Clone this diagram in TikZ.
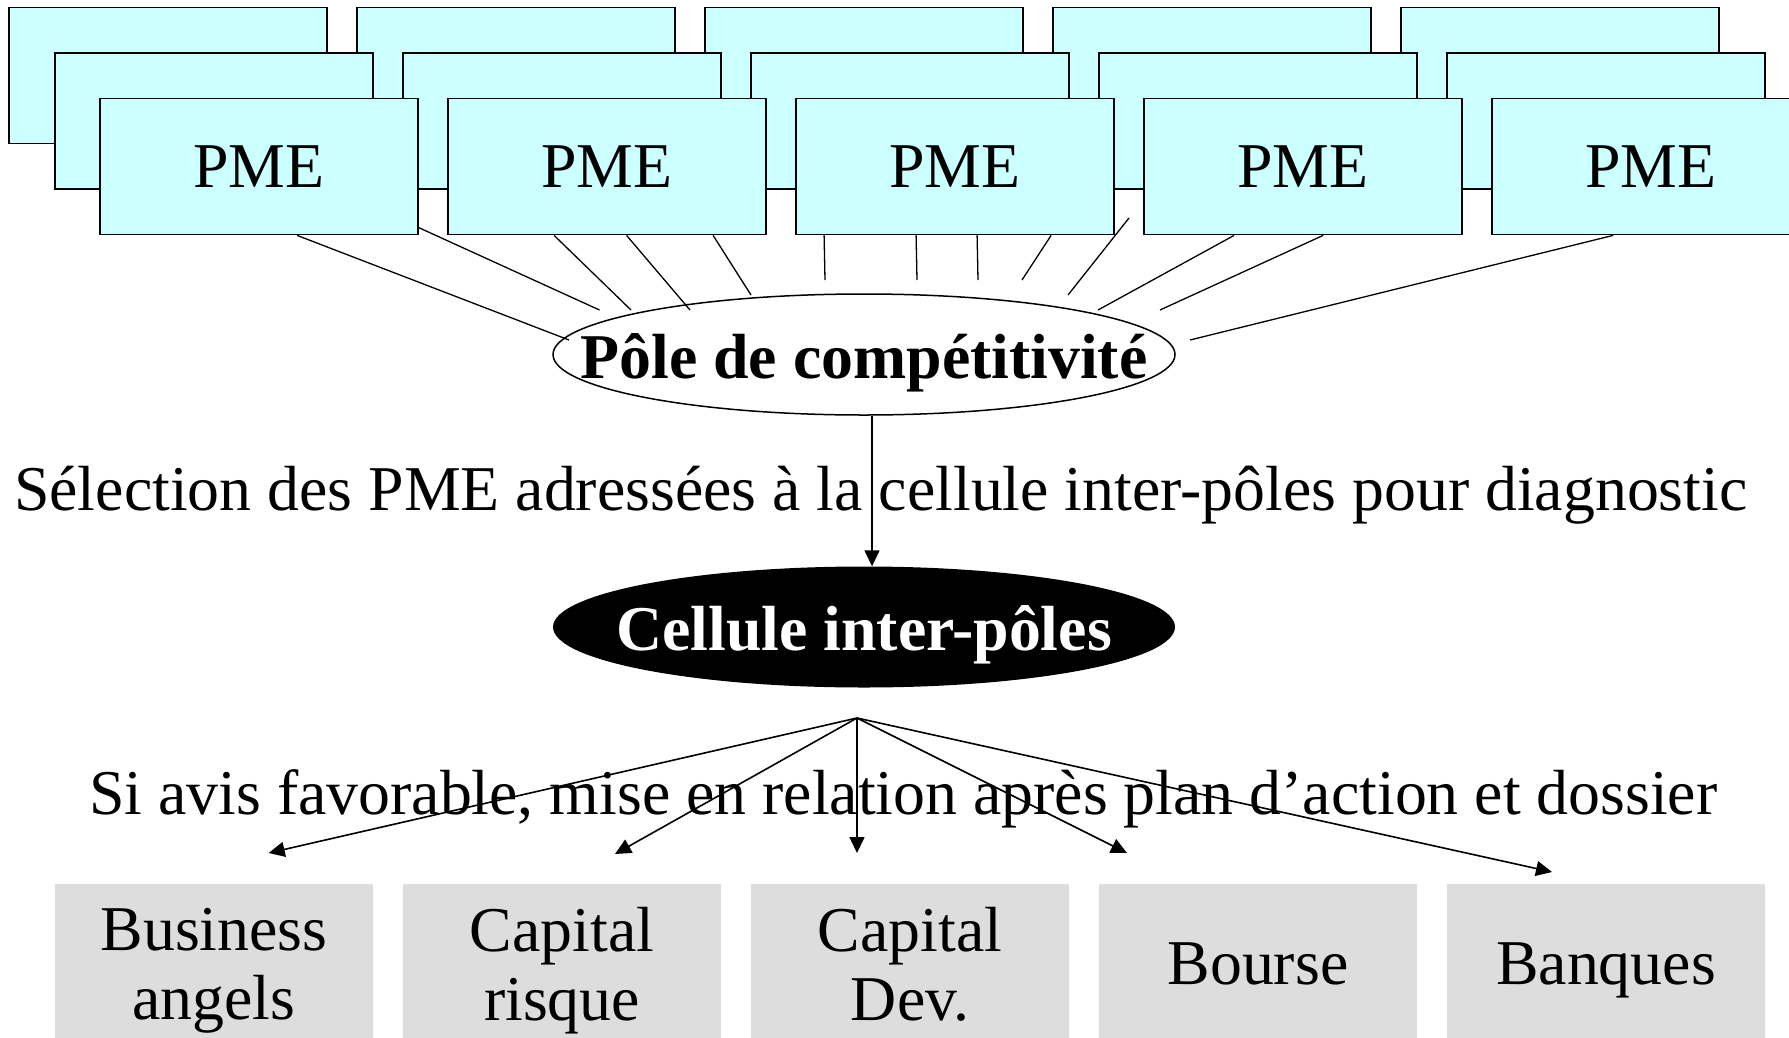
\documentclass[tikz,border=0pt]{standalone}
\usepackage{fontspec}
\setmainfont{Liberation Serif}
\usetikzlibrary{arrows.meta,shapes.geometric}
\definecolor{pmecyan}{HTML}{CCFFFF}
\definecolor{boxgray}{HTML}{DDDDDD}
\newcommand\bigfont{\fontsize{63.8pt}{69pt}\selectfont}
\begin{document}
\begin{tikzpicture}[x=1pt,y=-1pt,
  pmebox/.style={draw=black, line width=1.8pt, fill=pmecyan, minimum width=318pt,
    minimum height=136pt, inner sep=0pt, text height=42pt, text depth=0pt, font=\bigfont},
  gbox/.style={fill=boxgray, minimum width=318pt, minimum height=160pt, inner sep=0pt,
    align=center, text depth=0pt, font=\bigfont},
  oval/.style={ellipse, minimum width=622pt, minimum height=121pt, inner xsep=-150pt,
    inner ysep=-60pt, text depth=0pt, font=\bigfont\bfseries},
  conn/.style={line width=1.3pt},
  fan/.style={line width=1.6pt, -{Triangle[length=16pt,width=15pt]}},
  caption/.style={anchor=base west, inner sep=0pt, font=\bigfont}]
\useasboundingbox (0,0) rectangle (1789,1037);
\clip (0,0) rectangle (1789,1037);
% PME stacks
\foreach \i in {0,...,4} \node[pmebox] (k\i) at (168+348*\i,75.5) {};
\foreach \i in {0,...,4} \node[pmebox] (m\i) at (214+348*\i,121) {};
\foreach \i in {0,...,4} \node[pmebox] (f\i) at (259+348*\i,166.5) {PME};
% Pole
\node[oval, draw=black, line width=1.5pt, text height=48pt] (pole) at (864,354.5) {Pôle de compétitivité};
% line ends
\coordinate (e1) at (569,340);
\coordinate (e2) at (599.5,310);
\coordinate (e3) at (631,310);
\coordinate (e4) at (690,310);
\coordinate (e5) at (751,295);
\coordinate (e6) at (825,280);
\coordinate (e7) at (917,280);
\coordinate (e8) at (978,280);
\coordinate (e9) at (1022,280);
\coordinate (s10) at (1129,218);
\coordinate (e10) at (1068,295);
\coordinate (e11) at (1098,310);
\coordinate (e12) at (1160,310);
\coordinate (e13) at (1190,340);
\draw[conn] ([xshift=198pt]f0.south west) -- (e1);
\draw[conn] ([yshift=7.7pt]f0.south east) -- (e2);
\draw[conn] ([xshift=107pt]f1.south west) -- (e3);
\draw[conn] ([xshift=179.5pt]f1.south west) -- (e4);
\draw[conn] ([xshift=266pt]f1.south west) -- (e5);
\draw[conn] ([xshift=29pt]f2.south west) -- (e6);
\draw[conn] ([xshift=121pt]f2.south west) -- (e7);
\draw[conn] ([xshift=182pt]f2.south west) -- (e8);
\draw[conn] ([xshift=256pt]f2.south west) -- (e9);
\draw[conn] (s10) -- (e10);
\draw[conn] ([xshift=91pt]f3.south west) -- (e11);
\draw[conn] ([xshift=180pt]f3.south west) -- (e12);
\draw[conn] ([xshift=122pt]f4.south west) -- (e13);
% caption 1
\node[caption] (cap1) at (14,510) {Sélection des PME adressées à la cellule inter-pôles pour diagnostic};
% cellule
\node[oval, fill=black, text=white, text height=46pt] (cell) at (864,627) {Cellule inter-pôles};
\draw[fan, line width=1.4pt] ([xshift=8pt]pole.south) -- ([xshift=8pt]cell.north);
% caption 2
\node[caption] (cap2) at (89,814) {Si avis favorable, mise en relation après plan d’action et dossier};
% fan
\coordinate (apex) at (857,718);
\coordinate (t1) at (268.7,853);
\coordinate (t2) at (615,854);
\coordinate (t3) at (857,853);
\coordinate (t4) at (1127,853);
\coordinate (t5) at (1552,872);
\foreach \t in {t1,t2,t3,t4,t5} \draw[fan] (apex) -- (\t);
% bottom boxes
\node[gbox] (b1) at (214,964) {Business\\angels};
\node[gbox] (b2) at (562,964) {Capital\\risque};
\node[gbox] (b3) at (910,964) {Capital\\Dev.};
\node[gbox] (b4) at (1258,964) {Bourse};
\node[gbox] (b5) at (1606,964) {Banques};
\end{tikzpicture}
\end{document}
